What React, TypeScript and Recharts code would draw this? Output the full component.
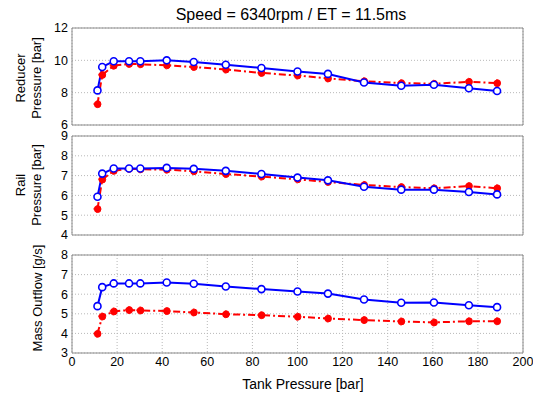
import React from 'react';
import { LineChart, Line, XAxis, YAxis, CartesianGrid, ReferenceArea } from 'recharts';

const tankPressure = [11.3, 13.4, 18.5, 25.3, 30.3, 42, 54, 68.2, 84, 100, 113.5, 129.5, 146, 160.5, 176, 188.5];

const reducerModel = [8.14, 9.59, 9.94, 9.94, 9.94, 10.0, 9.9, 9.73, 9.53, 9.31, 9.16, 8.63, 8.43, 8.49, 8.27, 8.1];
const reducerExp = [7.29, 9.1, 9.67, 9.78, 9.76, 9.69, 9.59, 9.43, 9.22, 9.06, 8.88, 8.71, 8.59, 8.55, 8.67, 8.59];

const railModel = [5.93, 7.1, 7.36, 7.36, 7.36, 7.39, 7.34, 7.24, 7.08, 6.9, 6.76, 6.44, 6.29, 6.29, 6.17, 6.05];
const railExp = [5.31, 6.8, 7.24, 7.34, 7.32, 7.3, 7.22, 7.08, 6.95, 6.81, 6.68, 6.53, 6.42, 6.36, 6.47, 6.36];

const flowModel = [5.39, 6.36, 6.55, 6.55, 6.55, 6.6, 6.53, 6.39, 6.26, 6.14, 6.03, 5.73, 5.56, 5.58, 5.44, 5.34];
const flowExp = [3.98, 4.86, 5.12, 5.19, 5.17, 5.14, 5.07, 4.98, 4.93, 4.85, 4.76, 4.68, 4.61, 4.56, 4.62, 4.62];

const xTicks = [0, 20, 40, 60, 80, 100, 120, 140, 160, 180, 200];
const reducerTicks = [6, 8, 10, 12];
const railTicks = [4, 5, 6, 7, 8, 9];
const flowTicks = [3, 4, 5, 6, 7, 8];

const BLUE = '#0000FF';
const RED = '#FF0000';
const FRAME = '#8c8c8c';
const FONT = '"Liberation Sans", Arial, sans-serif';
const TICK = { fontSize: 12.5, fill: '#000', fontFamily: FONT };

const makeRows = (model: number[], exp: number[]) =>
  tankPressure.map((x, i) => ({ x, model: model[i], exp: exp[i] }));

// rotated y label, one text per line
const YLabel = ({ lines, cy, xs }: { lines: string[]; cy: number; xs: number[] }) => (
  <g>
    {lines.map((l, i) => (
      <text
        key={i}
        x={xs[i]}
        y={cy}
        transform={`rotate(-90 ${xs[i]} ${cy})`}
        textAnchor="middle"
        dominantBaseline="central"
        fontSize={13}
        fill="#000"
        fontFamily={FONT}
      >
        {l}
      </text>
    ))}
  </g>
);

type PanelProps = {
  top: number;
  height: number;
  marginTop: number;
  marginBottom: number;
  rows: { x: number; model: number; exp: number }[];
  yTicks: number[];
  labelLines: string[];
  labelXs: number[];
  labelY: number;
  showX: boolean;
};

const Panel: React.FC<PanelProps> = ({ top, height, marginTop, marginBottom, rows, yTicks, labelLines, labelXs, labelY, showX }) => {
  const yMin = yTicks[0];
  const yMax = yTicks[yTicks.length - 1];
  return (
    <div style={{ position: 'absolute', left: 0, top, width: 533, height, overflow: 'visible' }}>
      <LineChart width={533} height={height} data={rows} margin={{ top: marginTop, right: 10, bottom: marginBottom, left: 0 }}>
        <CartesianGrid stroke="#b8b8b8" strokeDasharray="1 2" />
        <XAxis
          dataKey="x"
          type="number"
          domain={[0, 200]}
          ticks={xTicks}
          axisLine={false}
          tickLine={false}
          tick={showX ? TICK : false}
          tickSize={0}
          tickMargin={showX ? 4 : 0}
          height={showX ? 40 : 0}
        />
        <YAxis
          type="number"
          domain={[yMin, yMax]}
          ticks={yTicks}
          width={72}
          axisLine={false}
          tickLine={false}
          tickSize={0}
          tickMargin={4}
          interval={0}
          tick={TICK}
        />
        <ReferenceArea x1={0} x2={200} y1={yMin} y2={yMax} fill="none" stroke={FRAME} strokeWidth={1} ifOverflow="visible" />
        <Line
          type="linear"
          dataKey="exp"
          stroke={RED}
          strokeWidth={2}
          strokeDasharray="7 3 2 3"
          dot={{ r: 3.5, fill: RED, stroke: RED, strokeWidth: 1 }}
          isAnimationActive={false}
        />
        <Line
          type="linear"
          dataKey="model"
          stroke={BLUE}
          strokeWidth={2}
          dot={{ r: 3.5, fill: '#fff', stroke: BLUE, strokeWidth: 1.6 }}
          isAnimationActive={false}
        />
      </LineChart>
      <svg style={{ position: 'absolute', left: 0, top: 0, overflow: 'visible' }} width={60} height={height}>
        <YLabel lines={labelLines} cy={labelY} xs={labelXs} />
      </svg>
    </div>
  );
};

const App: React.FC = () => (
  <div style={{ position: 'absolute', left: 0, top: 0, width: 533, height: 394, background: '#fff', fontFamily: FONT }}>
    <style>{'.recharts-surface{overflow:visible}.recharts-wrapper{overflow:visible}'}</style>
    <div style={{ position: 'absolute', left: 91, width: 400, top: 6, textAlign: 'center', fontSize: 16, lineHeight: '18px', color: '#000' }}>
      Speed = 6340rpm / ET = 11.5ms
    </div>
    <Panel
      top={0}
      height={130}
      marginTop={28}
      marginBottom={5}
      rows={makeRows(reducerModel, reducerExp)}
      yTicks={reducerTicks}
      labelLines={['Reducer', 'Pressure [bar]']}
      labelXs={[20, 36]}
      labelY={78}
      showX={false}
    />
    <Panel
      top={130}
      height={110}
      marginTop={6}
      marginBottom={5}
      rows={makeRows(railModel, railExp)}
      yTicks={railTicks}
      labelLines={['Rail', 'Pressure [bar]']}
      labelXs={[20, 36]}
      labelY={55}
      showX={false}
    />
    <Panel
      top={250}
      height={144}
      marginTop={5}
      marginBottom={1}
      rows={makeRows(flowModel, flowExp)}
      yTicks={flowTicks}
      labelLines={['Mass Outflow [g/s]']}
      labelXs={[37]}
      labelY={48}
      showX={true}
    />
    <div style={{ position: 'absolute', left: 203, width: 200, top: 376, textAlign: 'center', fontSize: 14, lineHeight: '16px', color: '#000' }}>
      Tank Pressure [bar]
    </div>
  </div>
);

export default App;
